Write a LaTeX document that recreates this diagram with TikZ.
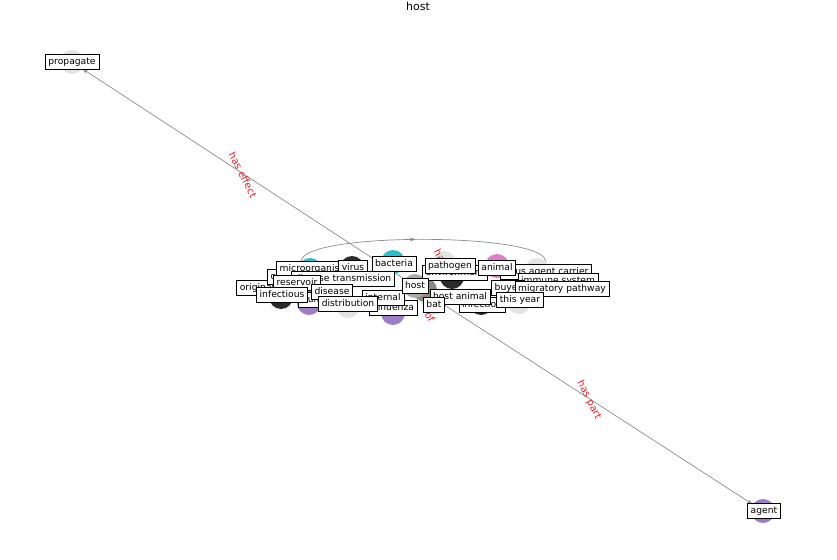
\documentclass[tikz,border=0pt]{standalone}
\usepackage{fontspec}
\setmainfont{DejaVu Sans}
\usetikzlibrary{arrows.meta,decorations.markings}
\definecolor{cCyan}{HTML}{2CBED0}
\definecolor{cDark}{HTML}{2B2B2B}
\definecolor{cLight}{HTML}{E4E4E4}
\definecolor{cPurple}{HTML}{9F7CC6}
\definecolor{cPink}{HTML}{DF7FC9}
\definecolor{cEdge}{HTML}{8C8C8C}
\definecolor{cRed}{HTML}{E8202A}
\tikzset{
  dot/.style={circle, inner sep=0pt, minimum size=24pt, fill=#1, draw=none},
  lbl/.style={draw=black, fill=white, line width=0.6pt, inner sep=3.2pt,
    font=\fontsize{9.2}{11}\selectfont, text height=7pt, text depth=2pt},
  edgeline/.style={draw=cEdge, line width=0.7pt, -{Stealth[length=6pt,width=4pt]}},
  elabel/.style={text=cRed, font=\fontsize{10}{12}\selectfont, inner sep=0pt},
  midarrow/.style={postaction={decorate}, decoration={markings,
    mark=at position 0.47 with {\arrow{Stealth[length=6pt,width=4pt]}}}}
}
\begin{document}
\begin{tikzpicture}[x=1pt,y=-1pt]
\useasboundingbox (0,0) rectangle (837,559);
\node[font=\fontsize{11}{13}\selectfont] (title) at (418,6) {host};
% circles
\node[dot=cLight] (c-propagate) at (72,62) {};
\node[dot=cPurple] (c-agent) at (763,511) {};
\node[dot=cCyan] (c-micro) at (310,270) {};
\node[dot=cCyan] (c-bacteria) at (393,262) {};
\node[dot=cDark] (c-virus) at (352,268) {};
\node[dot=cDark] (c-infectious) at (281,297) {};
\node[dot=cLight] (c-pathogen) at (444,263) {};
\node[dot=cDark] (c-env) at (452,277) {};
\node[dot=cDark] (c-infection) at (481,303) {};
\node[dot=cPink] (c-animal) at (497,266) {};
\node[dot=cLight] (c-carrier) at (537,270) {};
\node[dot=cLight] (c-thisyear) at (519,302) {};
\node[dot=cLight] (c-distribution) at (348,306) {};
\node[dot=cPurple] (c-human) at (309,303) {};
\node[dot=cPurple] (c-influenza) at (393,313) {};
\node[dot=cLight] (c-bat) at (434,303) {};
\node[dot=cDark!55] (c-host2) at (425,290) {};
\node[dot=cLight!75!black] (c-host) at (415,286) {};
% edges
\draw[edgeline] (c-host.center) -- (c-propagate);
\draw[edgeline] (c-host.center) -- (c-agent);
\draw[draw=cEdge, line width=0.7pt, midarrow] (c-micro.north west) .. controls (300,232) and (545,232) .. (c-carrier.north east);
\draw[draw=cRed!70, line width=0.6pt] (c-host.center) -- (c-bat.center);
\draw[draw=cRed!70, line width=0.6pt] (c-host.center) -- (c-pathogen.center);
% edge labels
\node[elabel, rotate=-63] (l-effect) at (243,175) {has effect};
\node[elabel, rotate=-63] (l-part) at (589,400) {has part};
\node[elabel, rotate=-63] (l-of) at (430,317) {of};
\node[elabel, rotate=-63] (l-has) at (441,258) {has};
% labels
\node[lbl] (original) at (257,288) {original};
\node[lbl] (organism) at (292,277) {organism};
\node[lbl] (human) at (318,300) {human};
\node[lbl] (microorganism) at (314,269) {microorganism};
\node[lbl] (virus) at (353,268) {virus};
\node[lbl] (transmission) at (343,279) {disease transmission};
\node[lbl] (reservoir) at (297,283) {reservoir};
\node[lbl] (infectious) at (282,295) {infectious};
\node[lbl] (disease) at (332,292) {disease};
\node[lbl] (influenza) at (393,308) {influenza};
\node[lbl] (internal) at (383,298) {internal};
\node[lbl] (distribution) at (348,304) {distribution};
\node[lbl] (infection) at (482,305) {infection};
\node[lbl] (carrier) at (546,272) {virus agent carrier};
\node[lbl] (immune) at (558,281) {immune system};
\node[lbl] (buyer) at (508,288) {buyer};
\node[lbl] (migratory) at (562,289) {migratory pathway};
\node[lbl] (environment) at (455,273) {environment};
\node[lbl] (bacteria) at (394,264) {bacteria};
\node[lbl] (pathogen) at (450,266) {pathogen};
\node[lbl] (animal) at (497,268) {animal};
\node[lbl] (host) at (415,286) {host};
\node[lbl] (hostanimal) at (460,297) {host animal};
\node[lbl] (thisyear) at (520,300) {this year};
\node[lbl] (bat) at (434,305) {bat};
\node[lbl] (propagate) at (72,62) {propagate};
\node[lbl] (agent) at (764,511) {agent};
\end{tikzpicture}
\end{document}
